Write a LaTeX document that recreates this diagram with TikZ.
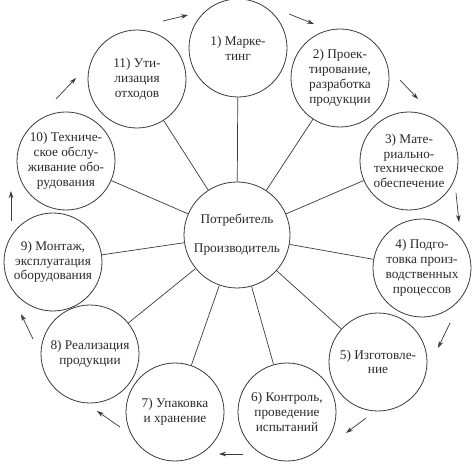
\documentclass[tikz,border=0pt]{standalone}
\usepackage{fontspec}
\setmainfont{Liberation Serif}
\usetikzlibrary{arrows.meta}
\definecolor{ink}{HTML}{3A3A3A}
\definecolor{txt}{HTML}{2A2A2A}
\tikzset{
  stage/.style={circle, draw=ink, line width=0.8pt, minimum size=98pt, inner sep=0pt, align=center,
    font=\fontsize{13.3}{14.8}\selectfont, text=txt},
  hub/.style={circle, draw=ink, line width=0.8pt, minimum size=106pt, inner sep=0pt},
  spoke/.style={draw=ink, line width=0.7pt},
  flow/.style={draw=ink, line width=0.7pt, -{Stealth[length=7pt,width=4.5pt]}},
  lbl/.style={font=\fontsize{13.3}{14.8}\selectfont, text=txt, inner sep=0pt}
}
\begin{document}
\begin{tikzpicture}[x=1pt,y=-1pt]
\useasboundingbox (0,0) rectangle (474,470);
\node[hub] (c) at (237,235) {};
\node[lbl] (c1) at (237,220) {Потребитель};
\node[lbl] (c2) at (237,250) {Производитель};

\node[stage] (s1) at (238,48) {1) Марке-\\тинг};
\node[stage] (s2) at (340,78) {2) Проек-\\тирование,\\разработка\\продукции};
\node[stage] (s3) at (409,161) {3) Мате-\\риально-\\техническое\\обеспечение};
\node[stage] (s4) at (422,268) {4) Подго-\\товка произ-\\водственных\\процессов};
\node[stage] (s5) at (378,362) {5) Изготовле-\\ние};
\node[stage] (s6) at (287,412) {6) Контроль,\\проведение\\испытаний};
\node[stage] (s7) at (175,412) {7) Упаковка\\и хранение};
\node[stage] (s8) at (90,354) {8) Реализация\\продукции};
\node[stage] (s9) at (53,262) {9) Монтаж,\\эксплуатация\\оборудования};
\node[stage] (s10) at (66,161) {10) Техниче-\\ское обслу-\\живание обо-\\рудования};
\node[stage] (s11) at (137,79) {11) Ути-\\лизация\\отходов};

\foreach \i in {1,...,11} {\draw[spoke] (c) -- (s\i);}

\coordinate (a1s) at (163,21);  \coordinate (a1e) at (188,15);
\coordinate (a2s) at (289,14);  \coordinate (a2e) at (314,24);
\coordinate (a3s) at (400,80);  \coordinate (a3e) at (418,99);
\coordinate (a4s) at (456,193); \coordinate (a4e) at (459,222);
\coordinate (a5s) at (450,323); \coordinate (a5e) at (438,348);
\coordinate (a6s) at (366,418); \coordinate (a6e) at (346,433);
\coordinate (a7s) at (243,454); \coordinate (a7e) at (219,454);
\coordinate (a8s) at (120,427); \coordinate (a8e) at (97,411);
\coordinate (a9s) at (33,339);  \coordinate (a9e) at (21,314);
\coordinate (a10s) at (11,221); \coordinate (a10e) at (11,191);
\coordinate (a11s) at (56,99);  \coordinate (a11e) at (76,78);
\foreach \i in {1,...,11} {\draw[flow] (a\i s) -- (a\i e);}
\end{tikzpicture}
\end{document}
